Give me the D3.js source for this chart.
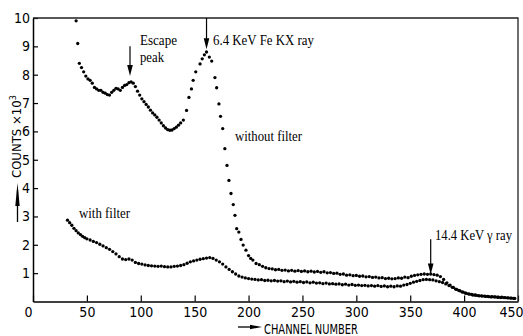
<!DOCTYPE html>
<html>
<head>
<meta charset="utf-8">
<script src="https://cdn.jsdelivr.net/npm/d3@7"></script>
<style>
  body { margin: 0; background: #fff; }
  svg { display: block; }
</style>
</head>
<body>
<script>
// data (channel number, counts x 10^3)
const noFilterCh = [
  40, 41.5, 43, 45, 47, 49, 51, 53, 55, 57, 59, 61, 63, 65, 67, 69, 71, 73, 75, 77,
  79, 81, 83, 85, 87, 89, 91, 93, 95, 97, 99, 101, 103, 105, 107, 109, 111, 113, 115, 117,
  119, 121, 123, 125, 127, 129, 131, 133, 135, 137, 139.5, 142.5, 144.7, 147, 148.6, 151, 155, 157, 159, 161,
  163.6, 165.8, 168.8, 170.4, 172.5, 174, 176, 178, 180, 181.8, 183.7, 185.8, 187.4, 189, 191, 193, 195, 197.6, 200, 202,
  204, 207, 210, 213, 216, 219, 222, 225, 228, 231, 234, 237, 240, 243, 246, 249, 252, 255, 258, 261,
  264, 267, 270, 273, 276, 279, 282, 285, 288, 291, 294, 297, 300, 303, 306, 309, 312, 315, 318, 321,
  324, 327, 330, 333, 336, 339, 342, 345, 348, 351, 354, 357, 360, 363, 366, 369, 372, 375, 378, 381,
  384, 387, 390, 393, 396, 399, 402, 405, 408, 411, 414, 417, 420, 423, 426, 429, 432, 435, 438, 441,
  444, 447
];
const noFilterCounts = [
  9.9, 9.1, 8.4, 8.25, 8.1, 7.95, 7.85, 7.8, 7.7, 7.55, 7.5, 7.45, 7.45, 7.38, 7.35, 7.3, 7.28, 7.38, 7.45, 7.52,
  7.5, 7.45, 7.55, 7.62, 7.65, 7.72, 7.75, 7.7, 7.58, 7.42, 7.28, 7.15, 7.05, 6.95, 6.86, 6.75, 6.65, 6.58, 6.5, 6.4,
  6.3, 6.2, 6.12, 6.06, 6.04, 6.05, 6.1, 6.15, 6.22, 6.3, 6.4, 6.74, 7.2, 7.5, 7.8, 8.1, 8.38, 8.56, 8.7, 8.8,
  8.62, 8.48, 7.9, 7.54, 6.97, 6.53, 6.1, 5.39, 4.8, 4.27, 3.81, 3.42, 3.04, 2.57, 2.45, 2.19, 1.99, 1.81, 1.62, 1.52,
  1.46, 1.34, 1.3, 1.24, 1.19, 1.16, 1.15, 1.12, 1.13, 1.1, 1.11, 1.08, 1.1, 1.07, 1.09, 1.06, 1.08, 1.05, 1.07, 1.04,
  1.06, 1.03, 1.05, 1.01, 1.02, 0.99, 1.0, 0.96, 0.97, 0.93, 0.94, 0.91, 0.92, 0.89, 0.9, 0.87, 0.88, 0.85, 0.86, 0.83,
  0.84, 0.81, 0.82, 0.8, 0.81, 0.83, 0.82, 0.86, 0.84, 0.89, 0.92, 0.94, 0.96, 0.97, 0.96, 0.97, 0.95, 0.93, 0.88, 0.78,
  0.66, 0.58, 0.5, 0.43, 0.38, 0.33, 0.29, 0.26, 0.23, 0.22, 0.2, 0.19, 0.18, 0.17, 0.17, 0.16, 0.15, 0.15, 0.14, 0.13,
  0.12, 0.11
];

const withFilterCh = [
  32, 34, 36, 38, 40, 42, 44, 46, 48, 50, 53, 56, 59, 62, 65, 68, 71, 74, 77, 80,
  83, 86, 89, 92, 95, 98, 101, 104, 107, 110, 113, 116, 119, 122, 125, 128, 131, 134, 137, 140,
  143, 146, 149, 152, 155, 158, 161, 164, 167, 170, 173, 176, 179, 182, 185, 188, 191, 194, 197, 200,
  203, 206, 209, 212, 215, 218, 221, 224, 227, 230, 233, 236, 239, 242, 245, 248, 251, 254, 257, 260,
  263, 266, 269, 272, 275, 278, 281, 284, 287, 290, 293, 296, 299, 302, 305, 308, 311, 314, 317, 320,
  323, 326, 329, 332, 335, 338, 341, 344, 347, 350, 353, 356, 359, 362, 365, 368, 371, 374, 377, 380,
  383, 386, 389, 392, 395, 398, 401, 404, 407, 410, 413, 416, 419, 422, 425, 428, 431, 434, 437, 440,
  443, 446
];
const withFilterCounts = [
  2.87, 2.78, 2.69, 2.58, 2.5, 2.42, 2.36, 2.3, 2.25, 2.21, 2.17, 2.12, 2.08, 2.02, 1.96, 1.9, 1.84, 1.76, 1.68, 1.58,
  1.5, 1.48, 1.5, 1.46, 1.38, 1.34, 1.32, 1.29, 1.27, 1.26, 1.25, 1.24, 1.25, 1.23, 1.22, 1.22, 1.24, 1.25, 1.27, 1.3,
  1.35, 1.4, 1.43, 1.46, 1.49, 1.51, 1.53, 1.55, 1.52, 1.46, 1.4, 1.32, 1.22, 1.13, 1.05, 0.97, 0.9, 0.86, 0.83, 0.81,
  0.79, 0.78, 0.76, 0.77, 0.74, 0.75, 0.73, 0.74, 0.72, 0.73, 0.7, 0.72, 0.69, 0.71, 0.68, 0.7, 0.67, 0.69, 0.66, 0.68,
  0.65, 0.66, 0.63, 0.65, 0.62, 0.63, 0.61, 0.62, 0.59, 0.61, 0.58, 0.6, 0.57, 0.58, 0.56, 0.57, 0.55, 0.56, 0.54, 0.56,
  0.53, 0.55, 0.52, 0.54, 0.52, 0.55, 0.54, 0.58, 0.6, 0.64, 0.68, 0.71, 0.74, 0.77, 0.78, 0.77, 0.76, 0.73, 0.7, 0.67,
  0.62, 0.56, 0.5, 0.44, 0.39, 0.34, 0.3, 0.27, 0.25, 0.23, 0.21, 0.2, 0.19, 0.18, 0.16, 0.16, 0.15, 0.14, 0.14, 0.13,
  0.12, 0.11
];

const xTicks = [0, 50, 100, 150, 200, 250, 300, 350, 400, 450];
const yTicks = [1, 2, 3, 4, 5, 6, 7, 8, 9, 10];

const width = 523,
  height = 336;
const plotLeft = 33,
  plotRight = 518,
  plotTop = 18,
  plotBottom = 301.5;

let svg, xScale, yScale;
const sans = "'DejaVu Sans Condensed', 'Liberation Sans Narrow', sans-serif";
const serif = "'Liberation Serif', 'Times New Roman', serif";

const drawCanvas = () => {
  svg = d3
    .select("body")
    .append("svg")
    .attr("width", width)
    .attr("height", height);
};

const generateScales = () => {
  xScale = d3.scaleLinear().domain([0, 450]).range([plotLeft, plotRight]);
  yScale = d3.scaleLinear().domain([0, 10]).range([plotBottom, plotTop]);
};

const generateAxis = () => {
  // ticks point inwards, labels outside
  const xAxis = d3.axisBottom(xScale).tickValues(xTicks).tickSize(-6).tickSizeOuter(0).tickPadding(6);
  const gx = svg
    .append("g")
    .attr("transform", "translate(0," + plotBottom + ")")
    .call(xAxis);
  gx.select(".domain").attr("stroke-width", 1.5);
  gx.selectAll("line").attr("stroke-width", 1.2);
  gx.selectAll("text")
    .style("font-family", sans)
    .style("font-size", "14px")
    .attr("dx", (d) => (d === 0 ? -5 : 0))
    // the last label sits on the page edge
    .filter((d) => d === 450)
    .attr("text-anchor", "end")
    .attr("dx", 5);

  const yAxis = d3.axisLeft(yScale).tickValues(yTicks).tickSize(-5).tickSizeOuter(0).tickPadding(3);
  const gy = svg
    .append("g")
    .attr("transform", "translate(" + plotLeft + ",0)")
    .call(yAxis);
  gy.select(".domain").attr("stroke-width", 1.5);
  gy.selectAll("line").attr("stroke-width", 1.2);
  gy.selectAll("text").style("font-family", sans).style("font-size", "14px");

  // top and right frame
  svg
    .append("path")
    .attr("d", `M${xScale(0)},${yScale(10)}H${xScale(450)}V${yScale(0)}`)
    .attr("fill", "none")
    .attr("stroke", "#222")
    .attr("stroke-width", 1.3);
};

const drawDots = (chs, counts) => {
  svg
    .append("g")
    .selectAll("circle")
    .data(chs.map((c, i) => [c, counts[i]]))
    .enter()
    .append("circle")
    .attr("cx", (d) => xScale(d[0]))
    .attr("cy", (d) => yScale(d[1]))
    .attr("r", 1.65)
    .attr("fill", "#000");
};

// vertical arrow pointing down, in data coords
const downArrow = (ch, y1, y2) => {
  const x = xScale(ch),
    ya = yScale(y1),
    yb = yScale(y2);
  svg
    .append("line")
    .attr("x1", x)
    .attr("x2", x)
    .attr("y1", ya)
    .attr("y2", yb - 8)
    .attr("stroke", "#000")
    .attr("stroke-width", 1.2);
  svg
    .append("path")
    .attr("d", `M${x - 2.8},${yb - 11}L${x + 2.8},${yb - 11}L${x},${yb}Z`)
    .attr("fill", "#000");
};

const drawLabels = () => {
  // serif notes, squeezed to the width they take in the figure
  const note = (x, y, txt, w) =>
    svg
      .append("text")
      .attr("x", x)
      .attr("y", y)
      .attr("textLength", w)
      .attr("lengthAdjust", "spacingAndGlyphs")
      .style("font-family", serif)
      .style("font-size", "14px")
      .text(txt);

  note(140, 45, "Escape", 37);
  note(140, 62, "peak", 24);
  downArrow(90, 9.0, 7.95);

  note(213, 45, "6.4 KeV Fe KX ray", 101);
  downArrow(161, 10, 8.9);

  note(235, 141, "without filter", 67);
  note(79, 218, "with filter", 51);

  note(435, 240, "14.4 KeV \u03b3 ray", 77);
  downArrow(369, 2.2, 0.95);

  // y axis title with arrow
  svg
    .append("text")
    .attr("transform", "translate(20.5,178) rotate(-90)")
    .style("font-family", sans)
    .style("font-size", "13px")
    .html("COUNTS \u00d710<tspan dy='-5' font-size='9px'>3</tspan>");
  svg
    .append("line")
    .attr("x1", 17.5)
    .attr("x2", 17.5)
    .attr("y1", 222)
    .attr("y2", 190)
    .attr("stroke", "#000")
    .attr("stroke-width", 1.3);
  svg
    .append("path")
    .attr("d", "M15.3,206L19.7,206L17.5,183Z")
    .attr("fill", "#000");

  // x axis title with arrow
  svg
    .append("line")
    .attr("x1", 238)
    .attr("x2", 254)
    .attr("y1", 327)
    .attr("y2", 327)
    .attr("stroke", "#000")
    .attr("stroke-width", 1.3);
  svg
    .append("path")
    .attr("d", "M250,324.8L250,329.2L262,327Z")
    .attr("fill", "#000");
  svg
    .append("text")
    .attr("x", 264)
    .attr("y", 333.5)
    .attr("textLength", 94)
    .attr("lengthAdjust", "spacingAndGlyphs")
    .style("font-family", sans)
    .style("font-size", "14px")
    .text("CHANNEL  NUMBER");
};

drawCanvas();
generateScales();
generateAxis();
drawDots(noFilterCh, noFilterCounts);
drawDots(withFilterCh, withFilterCounts);
drawLabels();
</script>
</body>
</html>
